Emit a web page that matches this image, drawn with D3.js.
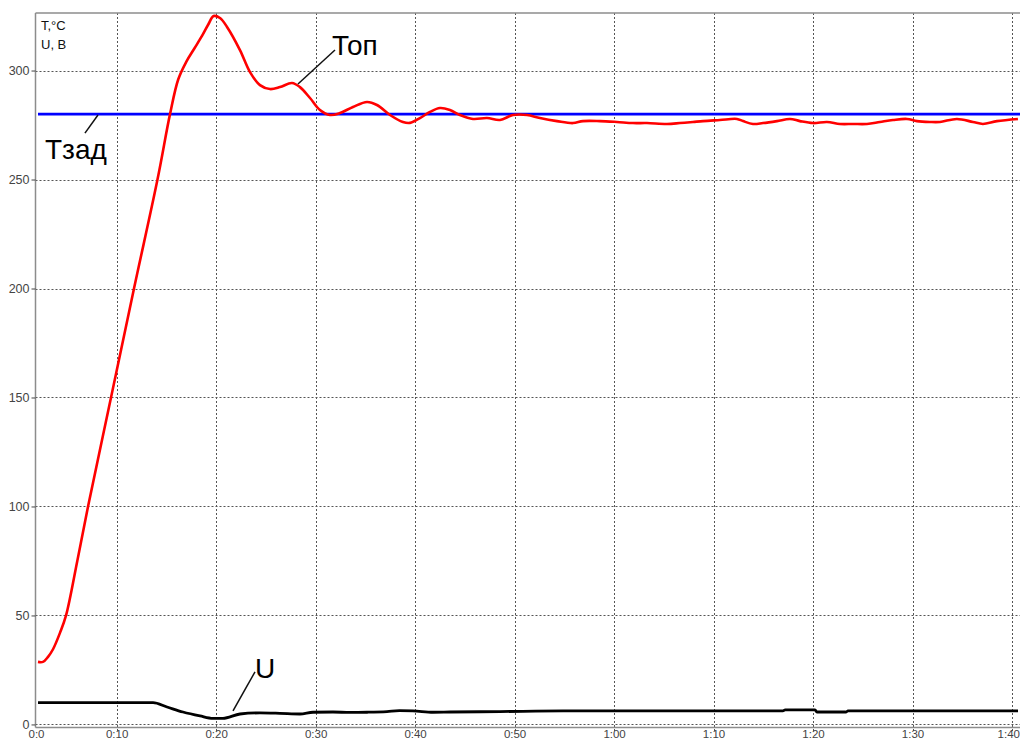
<!DOCTYPE html>
<html>
<head>
<meta charset="utf-8">
<script src="https://cdn.jsdelivr.net/npm/d3@7"></script>
<style>
  html, body { margin: 0; padding: 0; background: #fff; }
  svg { display: block; }
</style>
</head>
<body>
<svg id="chart" width="1020" height="740"></svg>
<script>
// ---- data (time in minutes) ----
const xTickValues = [1.9, 10, 20, 30, 40, 50, 60, 70, 80, 90, 100];
const xTickLabels = ["0:0", "0:10", "0:20", "0:30", "0:40", "0:50", "1:00", "1:10", "1:20", "1:30", "1:40"];
const yTickValues = [0, 50, 100, 150, 200, 250, 300];

const tzad = 280;

const topTime = [2.10, 2.60, 3.11, 3.61, 4.31, 4.92, 6.05, 7.13, 9.44, 11.75, 14.11, 15.37, 16.2, 17.0, 17.8, 18.6, 19.2, 19.75, 20.39, 21.10, 22.40, 23.41, 24.41, 25.42, 26.42, 27.63, 28.43, 29.44, 30.44, 31.45, 32.45, 33.76, 35.17, 36.17, 37.48, 38.78, 39.49, 40.49, 41.50, 42.50, 43.51, 44.51, 45.82, 47.23, 48.53, 49.84, 51.25, 52.55, 54.26, 55.87, 56.87, 58.58, 60.29, 61.90, 63.31, 65.32, 66.62, 67.93, 68.94, 70.64, 72.35, 72.96, 73.96, 74.97, 76.37, 77.68, 78.68, 79.99, 81.40, 82.70, 84.01, 85.42, 86.72, 88.03, 89.44, 90.44, 91.75, 92.75, 94.46, 96.07, 97.07, 98.48, 100.59];
const topValue = [28.7, 28.7, 31.0, 34.5, 42.0, 50.0, 75.0, 100.0, 150.0, 200.0, 250.0, 280.0, 296.0, 304.0, 310.0, 316.0, 321.0, 325.0, 324.1, 320.0, 309.4, 299.3, 293.3, 291.5, 292.4, 294.3, 292.4, 287.4, 281.9, 279.6, 280.5, 283.3, 285.6, 284.2, 279.6, 276.4, 276.0, 278.2, 281.0, 282.8, 281.9, 279.6, 277.8, 278.2, 277.3, 279.6, 279.6, 278.2, 276.8, 275.9, 276.8, 276.8, 276.4, 275.9, 275.9, 275.5, 275.9, 276.4, 276.8, 277.3, 277.8, 276.8, 275.5, 275.9, 276.8, 277.8, 276.8, 275.9, 276.4, 275.5, 275.5, 275.5, 276.4, 277.3, 277.8, 276.8, 276.4, 276.4, 277.8, 276.4, 275.5, 276.8, 277.8];

const uTime = [2.10, 13.66, 15.07, 16.67, 18.38, 19.69, 20.69, 22.40, 24.41, 26.42, 28.43, 29.74, 31.75, 33.46, 35.17, 37.18, 38.43, 39.79, 41.80, 43.51, 48.53, 54.87, 58.58, 68.63, 76.97, 77.2, 80.2, 80.39, 83.3, 83.51, 100.6];
const uValue = [10.0, 10.0, 8.0, 5.7, 3.9, 2.8, 2.8, 4.8, 5.3, 5.1, 4.8, 5.6, 5.7, 5.5, 5.6, 5.9, 6.3, 6.2, 5.6, 5.7, 5.9, 6.2, 6.2, 6.2, 6.2, 6.7, 6.7, 5.7, 5.7, 6.2, 6.2];

// annotation anchors in data coordinates: leader start, leader end, label position
const annTop  = { text: "Топ",  from: [28.23, 293.8], to: [31.95, 309.4], label: [31.65, 307.2] };
const annTzad = { text: "Тзад", from: [8.13, 279.6],  to: [6.82, 271.3],  label: [2.8, 259.4] };
const annU    = { text: "U",    from: [21.7, 6.2],    to: [23.91, 24.1],  label: [23.91, 21.3] };

// ---- layout ----
const svg = d3.select("#chart");
const pLeft = 35.5, pRight = 1020, pTop = 13, pBottom = 727.5;

const x = d3.scaleLinear().domain([1.9, 100.8]).range([36, 1020]);
const y = d3.scaleLinear().domain([-1.4, 326.4]).range([pBottom, pTop]);

const gridColor = "#555";
const axisColor = "#8c8c8c";
const font = "Arial, 'Liberation Sans', sans-serif";

// grid horizontal
svg.append("g").selectAll("line").data(yTickValues).join("line")
  .attr("x1", pLeft).attr("x2", pRight)
  .attr("y1", d => Math.round(y(d)) + 0.5).attr("y2", d => Math.round(y(d)) + 0.5)
  .attr("stroke", gridColor).attr("stroke-width", 1).attr("stroke-dasharray", "2,2");

// grid vertical
svg.append("g").selectAll("line").data(xTickValues.slice(1)).join("line")
  .attr("x1", d => Math.round(x(d)) + 0.5).attr("x2", d => Math.round(x(d)) + 0.5)
  .attr("y1", pTop).attr("y2", pBottom + 4)
  .attr("stroke", gridColor).attr("stroke-width", 1).attr("stroke-dasharray", "2,2");

// frame: left axis, top border, bottom axis
svg.append("line").attr("x1", pLeft).attr("x2", pLeft).attr("y1", pTop).attr("y2", pBottom)
  .attr("stroke", axisColor).attr("stroke-width", 1.5);
svg.append("line").attr("x1", pLeft).attr("x2", pRight).attr("y1", pTop).attr("y2", pTop)
  .attr("stroke", axisColor).attr("stroke-width", 1.5);
svg.append("line").attr("x1", pLeft).attr("x2", pRight).attr("y1", pBottom).attr("y2", pBottom)
  .attr("stroke", axisColor).attr("stroke-width", 1.5);

// y axis ticks and labels
const yAxis = d3.axisLeft(y).tickValues(yTickValues).tickSize(4).tickPadding(2).tickFormat(d3.format("d"));
const gy = svg.append("g").attr("transform", `translate(${pLeft},0)`).call(yAxis);
gy.select(".domain").remove();
gy.selectAll(".tick line").attr("stroke", "#444");
gy.selectAll("text").attr("fill", "#444").style("font-family", font).style("font-size", "12.5px");

// x axis labels
const xAxis = d3.axisBottom(x).tickValues(xTickValues).tickSize(0)
  .tickFormat((d, i) => xTickLabels[i]);
const gx = svg.append("g").attr("transform", `translate(0,${pBottom})`).call(xAxis);
gx.select(".domain").remove();
gx.selectAll("text").attr("fill", "#444").attr("dy", null).attr("y", 10.2)
  .style("font-family", font).style("font-size", "11.5px");
// last label kept inside the picture edge
gx.selectAll(".tick").filter((d, i) => i === xTickValues.length - 1).select("text")
  .attr("text-anchor", "end").attr("x", pRight - x(xTickValues[xTickValues.length - 1]) - 0.5);

// corner unit labels
svg.append("text").attr("x", 41).attr("y", 29.5).text("T,°C")
  .style("font-family", font).style("font-size", "13px").attr("fill", "#111");
svg.append("text").attr("x", 41).attr("y", 48.5).text("U, В")
  .style("font-family", font).style("font-size", "13px").attr("fill", "#111");

// Тзад line
svg.append("line").attr("x1", x(topTime[0])).attr("x2", pRight)
  .attr("y1", y(tzad)).attr("y2", y(tzad))
  .attr("stroke", "#0000ff").attr("stroke-width", 2.6);

// Топ line
const topData = topTime.map((t, i) => [t, topValue[i]]);
svg.append("path").datum(topData)
  .attr("fill", "none").attr("stroke", "#ff0000").attr("stroke-width", 2.6)
  .attr("stroke-linejoin", "round")
  .attr("d", d3.line().x(d => x(d[0])).y(d => y(d[1])).curve(d3.curveCatmullRom.alpha(0.5)));

// U line
const uData = uTime.map((t, i) => [t, uValue[i]]);
svg.append("path").datum(uData)
  .attr("fill", "none").attr("stroke", "#000").attr("stroke-width", 2.8)
  .attr("stroke-linejoin", "round")
  .attr("d", d3.line().x(d => x(d[0])).y(d => y(d[1])).curve(d3.curveMonotoneX));

// annotations
[annTop, annTzad, annU].forEach(a => {
  svg.append("line")
    .attr("x1", x(a.from[0])).attr("y1", y(a.from[1]))
    .attr("x2", x(a.to[0])).attr("y2", y(a.to[1]))
    .attr("stroke", "#111").attr("stroke-width", 1.5);
  svg.append("text").attr("x", x(a.label[0])).attr("y", y(a.label[1]))
    .text(a.text).attr("fill", "#000")
    .style("font-family", font).style("font-size", "28px");
});
</script>
</body>
</html>
